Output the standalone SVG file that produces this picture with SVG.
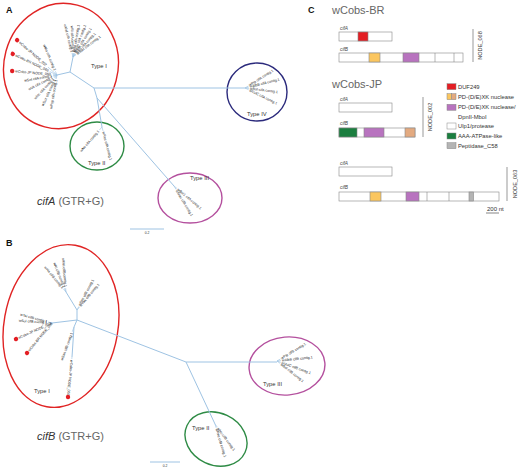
<svg xmlns="http://www.w3.org/2000/svg" width="520" height="467" viewBox="0 0 520 467">
<style>
text{font-family:"Liberation Sans",Arial,sans-serif}
.br{fill:none;stroke:#9ec3e3;stroke-width:1}
.leaf line{stroke:#9ec3e3;stroke-width:0.6}
.leaf text{font-size:3.6px;fill:#222}
.dot{fill:#e31e24}
.ell{fill:none;stroke-width:1.4}
.typ{font-size:5.8px;fill:#333}
.pl{font-size:9px;font-weight:bold;fill:#111}
.strain{font-size:11px;fill:#666}
.gl{font-size:4.8px;font-style:italic;fill:#444}
.box{fill:#fff;stroke:#888;stroke-width:0.6}
.seg{stroke:#888;stroke-width:0.6}
.lg{font-size:5.8px;fill:#333}
.node{font-size:5.6px;fill:#333}
.sb{stroke:#9ec3e3;stroke-width:1}
.sbt{font-size:3.4px;fill:#333}
</style>

<!-- Panel labels -->
<text class="pl" x="6" y="13">A</text>
<text class="pl" x="6" y="246">B</text>
<text class="pl" x="308" y="13">C</text>

<!-- Clade ellipses -->
<g id="clades">
<ellipse class="ell" stroke="#e02424" cx="61" cy="66" rx="57" ry="63" transform="rotate(15 61 66)"/>
<ellipse class="ell" stroke="#2b2a7c" cx="257" cy="92" rx="30" ry="29"/>
<ellipse class="ell" stroke="#2e8b45" cx="97" cy="146" rx="27" ry="24"/>
<ellipse class="ell" stroke="#b4509e" cx="190" cy="198" rx="32" ry="25"/>
<ellipse class="ell" stroke="#e02424" cx="61" cy="326" rx="57" ry="82" transform="rotate(10 61 326)"/>
<ellipse class="ell" stroke="#b4509e" cx="287" cy="366" rx="38" ry="29" transform="rotate(-5 287 366)"/>
<ellipse class="ell" stroke="#2e8b45" cx="216" cy="439" rx="32" ry="26" transform="rotate(25 216 439)"/>
<text class="typ" x="91" y="68">Type I</text>
<text class="typ" x="247" y="116">Type IV</text>
<text class="typ" x="88" y="165">Type II</text>
<text class="typ" x="190" y="180">Type III</text>
<text class="typ" x="34" y="393">Type I</text>
<text class="typ" x="263" y="386">Type III</text>
<text class="typ" x="192" y="430">Type II</text>
</g>

<!-- Connectors (tree branches) -->
<g id="connectors">
<path class="br" d="M94 88H245M94 88L70 72L73 57M70 72L57 75M94 88L97 98L102 127M97 98L174 186"/>
<path class="br" d="M77 320L186 362H277M186 362L215 424M77 320L77 310L66 292M77 320L52 323M77 320L74 327L72 357"/>
</g>

<!-- Tree A leaves -->
<g id="treeA">
<g class="leaf" transform="translate(73 57) rotate(-104)"><line x2="4"/><text transform="rotate(180)" x="-5" y="1.1" text-anchor="end">wMel cifA contig.1</text></g>
<g class="leaf" transform="translate(73 57) rotate(-92)"><line x2="4"/><text transform="rotate(180)" x="-5" y="1.1" text-anchor="end">wRi cifA contig.1</text></g>
<g class="leaf" transform="translate(73 57) rotate(-80)"><line x2="4"/><text x="5" y="1.1">wHa cifA contig.1</text></g>
<g class="leaf" transform="translate(73 57) rotate(-69)"><line x2="4"/><text x="5" y="1.1">wSim cifA contig.1</text></g>
<g class="leaf" transform="translate(73 57) rotate(-58)"><line x2="4"/><text x="5" y="1.1">wYak cifA contig.1</text></g>
<g class="leaf" transform="translate(73 57) rotate(-47)"><line x2="4"/><text x="5" y="1.1">wTei cifA contig.1</text></g>
<g class="leaf" transform="translate(73 57) rotate(-37)"><line x2="4"/><text x="5" y="1.1">wSan cifA contig.1</text></g>

<g class="leaf" transform="translate(57 75) rotate(-113)"><line x2="4"/><text transform="rotate(180)" x="-5" y="1.1" text-anchor="end">wMa cifA contig.1</text></g>
<g class="leaf" transform="translate(57 75) rotate(-138.8)"><line x2="12"/><text transform="rotate(180)" x="-50" y="1.1">wCobs-JP NODE_002</text><circle class="dot" cx="53" cy="0" r="2.2"/></g>
<g class="leaf" transform="translate(57 75) rotate(-154.5)"><line x2="8"/><text transform="rotate(180)" x="-46" y="1.1">wCobs-BR NODE_068</text><circle class="dot" cx="49" cy="0" r="2.2"/></g>
<g class="leaf" transform="translate(57 75) rotate(-174.9)"><line x2="4"/><text transform="rotate(180)" x="-42" y="1.1">wCobs-JP NODE_063</text><circle class="dot" cx="45" cy="0" r="2.2"/></g>
<g class="leaf" transform="translate(57 75) rotate(170)"><line x2="4"/><text transform="rotate(180)" x="-5" y="1.1" text-anchor="end">wSol cifA contig.1</text></g>
<g class="leaf" transform="translate(57 75) rotate(153)"><line x2="4"/><text transform="rotate(180)" x="-5" y="1.1" text-anchor="end">wVit cifA contig.1</text></g>
<g class="leaf" transform="translate(57 75) rotate(133)"><line x2="4"/><text transform="rotate(180)" x="-5" y="1.1" text-anchor="end">wInc cifA contig.1</text></g>
<g class="leaf" transform="translate(57 75) rotate(115)"><line x2="4"/><text transform="rotate(180)" x="-5" y="1.1" text-anchor="end">wSuz cifA contig.1</text></g>
<g class="leaf" transform="translate(57 75) rotate(100)"><line x2="4"/><text transform="rotate(180)" x="-5" y="1.1" text-anchor="end">wPsp cifA contig.1</text></g>

<g class="leaf" transform="translate(245 88) rotate(-32)"><line x2="4"/><text x="5" y="1.1">wPip cifA contig.1</text></g>
<g class="leaf" transform="translate(245 88) rotate(-14)"><line x2="4"/><text x="5" y="1.1">wAlbB cifA contig.1</text></g>
<g class="leaf" transform="translate(245 88) rotate(7)"><line x2="4"/><text x="5" y="1.1">wBol cifA contig.1</text></g>
<g class="leaf" transform="translate(245 88) rotate(26)"><line x2="4"/><text x="5" y="1.1">wVulC cifA contig.1</text></g>

<g class="leaf" transform="translate(102 127) rotate(131)"><line x2="4"/><text transform="rotate(180)" x="-5" y="1.1" text-anchor="end">wNo cifA contig.1</text></g>
<g class="leaf" transform="translate(102 127) rotate(75)"><line x2="4"/><text x="5" y="1.1">wRec cifA contig.1</text></g>

<g class="leaf" transform="translate(174 186) rotate(40)"><line x2="4"/><text x="5" y="1.1">wBol1 cifA contig.1</text></g>
<g class="leaf" transform="translate(174 186) rotate(59)"><line x2="4"/><text x="5" y="1.1">wMau cifA contig.1</text></g>

<line class="sb" x1="130" y1="229" x2="164" y2="229"/>
<text class="sbt" x="147" y="234" text-anchor="middle">0.2</text>
<text x="37" y="205" style="font-size:11px"><tspan font-style="italic" fill="#333">cifA</tspan><tspan fill="#666"> (GTR+G)</tspan></text>
</g>

<!-- Tree B leaves -->
<g id="treeB">
<g class="leaf" transform="translate(66 292) rotate(-95)"><line x2="4"/><text transform="rotate(180)" x="-5" y="1.1" text-anchor="end">wMel cifB contig.1</text></g>
<g class="leaf" transform="translate(66 292) rotate(-112)"><line x2="4"/><text transform="rotate(180)" x="-5" y="1.1" text-anchor="end">wRi cifB contig.1</text></g>
<g class="leaf" transform="translate(66 292) rotate(-130)"><line x2="4"/><text transform="rotate(180)" x="-5" y="1.1" text-anchor="end">wHa cifB contig.1</text></g>
<g class="leaf" transform="translate(77 310) rotate(-62)"><line x2="4"/><text x="5" y="1.1">wSim cifB contig.1</text></g>
<g class="leaf" transform="translate(77 310) rotate(-50)"><line x2="4"/><text x="5" y="1.1">wYak cifB contig.1</text></g>

<g class="leaf" transform="translate(52 323) rotate(-165)"><line x2="4"/><text transform="rotate(180)" x="-5" y="1.1" text-anchor="end">wTei cifB contig.1</text></g>
<g class="leaf" transform="translate(52 323) rotate(-176)"><line x2="4"/><text transform="rotate(180)" x="-5" y="1.1" text-anchor="end">wSol cifB contig.1</text></g>
<g class="leaf" transform="translate(52 323) rotate(156)"><line x2="2"/><text transform="rotate(180)" x="-37" y="1.1">wCobs-JP NODE_002</text><circle class="dot" cx="39.4" cy="0" r="2.2"/></g>
<g class="leaf" transform="translate(52 323) rotate(129.8)"><line x2="2"/><text transform="rotate(180)" x="-36.5" y="1.1">wCobs-BR NODE_068</text><circle class="dot" cx="39" cy="0" r="2.2"/></g>

<g class="leaf" transform="translate(74 327) rotate(110)"><line x2="5"/><text transform="rotate(180)" x="-6" y="1.1" text-anchor="end">wSan cifB contig.1</text></g>
<g class="leaf" transform="translate(72 357) rotate(95.7)"><line x2="2"/><text x="3" y="1.1">wCobs-JP NODE_063</text><circle class="dot" cx="40.2" cy="0" r="2.2"/></g>

<g class="leaf" transform="translate(277 361) rotate(-31)"><line x2="4"/><text x="5" y="1.1">wPip cifB contig.1</text></g>
<g class="leaf" transform="translate(277 361) rotate(-6)"><line x2="4"/><text x="5" y="1.1">wAlbB cifB contig.1</text></g>
<g class="leaf" transform="translate(277 361) rotate(20)"><line x2="4"/><text x="5" y="1.1">wVulC cifB contig.1</text></g>
<g class="leaf" transform="translate(277 361) rotate(38)"><line x2="4"/><text x="5" y="1.1">wBol cifB contig.1</text></g>

<g class="leaf" transform="translate(215 424) rotate(54)"><line x2="4"/><text x="5" y="1.1">wNo cifB contig.1</text></g>
<g class="leaf" transform="translate(215 424) rotate(73)"><line x2="4"/><text x="5" y="1.1">wRec cifB contig.1</text></g>

<line class="sb" x1="150" y1="462" x2="180" y2="462"/>
<text class="sbt" x="165" y="467" text-anchor="middle">0.2</text>
<text x="37" y="440" style="font-size:11px"><tspan font-style="italic" fill="#333">cifB</tspan><tspan fill="#666"> (GTR+G)</tspan></text>
</g>

<!-- Panel C -->
<g id="wCobsBR">
<text class="strain" x="332" y="14">wCobs-BR</text>
<text class="gl" x="340" y="30">cifA</text>
<rect class="box" x="339" y="32" width="53" height="9"/>
<rect x="358" y="32" width="10" height="9" fill="#e31e24" stroke="#888" stroke-width="0.6"/>
<text class="gl" x="340" y="51">cifB</text>
<rect class="box" x="339" y="53" width="124" height="9"/>
<rect x="369" y="53" width="11" height="9" fill="#fbc65f" stroke="#888" stroke-width="0.6"/>
<rect x="403" y="53" width="16" height="9" fill="#b873bf" stroke="#888" stroke-width="0.6"/>
<line class="seg" x1="435" y1="53" x2="435" y2="62"/>
<line class="seg" x1="454" y1="53" x2="454" y2="62"/>
<line x1="473" y1="29" x2="473" y2="62" stroke="#555" stroke-width="0.6"/>
<text class="node" transform="translate(482 45.5) rotate(-90)" text-anchor="middle">NODE_068</text>
</g>

<g id="wCobsJP">
<text class="strain" x="332" y="88">wCobs-JP</text>
<text class="gl" x="340" y="101">cifA</text>
<rect class="box" x="339" y="103" width="53" height="9"/>
<text class="gl" x="340" y="125">cifB</text>
<rect class="box" x="339" y="128" width="76" height="9"/>
<rect x="339" y="128" width="18" height="9" fill="#1b7e3f" stroke="#888" stroke-width="0.6"/>
<rect x="364" y="128" width="20" height="9" fill="#b873bf" stroke="#888" stroke-width="0.6"/>
<rect x="405" y="128" width="10" height="9" fill="#e3aa80" stroke="#888" stroke-width="0.6"/>
<line x1="423" y1="97" x2="423" y2="137" stroke="#555" stroke-width="0.6"/>
<text class="node" transform="translate(432 117) rotate(-90)" text-anchor="middle">NODE_002</text>

<text class="gl" x="340" y="165">cifA</text>
<rect class="box" x="339" y="167" width="53" height="9"/>
<text class="gl" x="340" y="189">cifB</text>
<rect class="box" x="339" y="192" width="160" height="9"/>
<rect x="370" y="192" width="11" height="9" fill="#fbc65f" stroke="#888" stroke-width="0.6"/>
<rect x="406" y="192" width="13" height="9" fill="#b873bf" stroke="#888" stroke-width="0.6"/>
<line class="seg" x1="427" y1="192" x2="427" y2="201"/>
<line class="seg" x1="449" y1="192" x2="449" y2="201"/>
<rect x="469" y="192" width="4.5" height="9" fill="#b4b4b4" stroke="#888" stroke-width="0.6"/>
<line x1="507" y1="167" x2="507" y2="201" stroke="#555" stroke-width="0.6"/>
<text class="node" transform="translate(517 184) rotate(-90)" text-anchor="middle">NODE_063</text>
<text x="487" y="211" style="font-size:6px;fill:#333">200 nt</text>
<line x1="486" y1="213" x2="499" y2="213" stroke="#333" stroke-width="0.6"/>
</g>

<g id="legend">
<rect x="447" y="83.7" width="9" height="6" fill="#e31e24" stroke="#888" stroke-width="0.5"/>
<text class="lg" x="458" y="88.7">DUF249</text>
<rect x="447" y="93.7" width="4.5" height="6" fill="#fbc65f" stroke="#888" stroke-width="0.5"/>
<rect x="451.5" y="93.7" width="4.5" height="6" fill="#e3aa80" stroke="#888" stroke-width="0.5"/>
<text class="lg" x="458" y="98.7">PD-(D/E)XK nuclease</text>
<rect x="447" y="104.3" width="9" height="6" fill="#b873bf" stroke="#888" stroke-width="0.5"/>
<text class="lg" x="458" y="109.3">PD-(D/E)XK nuclease/</text>
<text class="lg" x="458" y="119.3">DpnII-MboI</text>
<rect x="447" y="123" width="9" height="6" fill="#fff" stroke="#888" stroke-width="0.5"/>
<text class="lg" x="458" y="128">Ulp1/protease</text>
<rect x="447" y="133" width="9" height="6" fill="#1b7e3f" stroke="#888" stroke-width="0.5"/>
<text class="lg" x="458" y="138">AAA-ATPase-like</text>
<rect x="447" y="142.7" width="9" height="6" fill="#b4b4b4" stroke="#888" stroke-width="0.5"/>
<text class="lg" x="458" y="147.7">Peptidase_C58</text>
</g>
</svg>
